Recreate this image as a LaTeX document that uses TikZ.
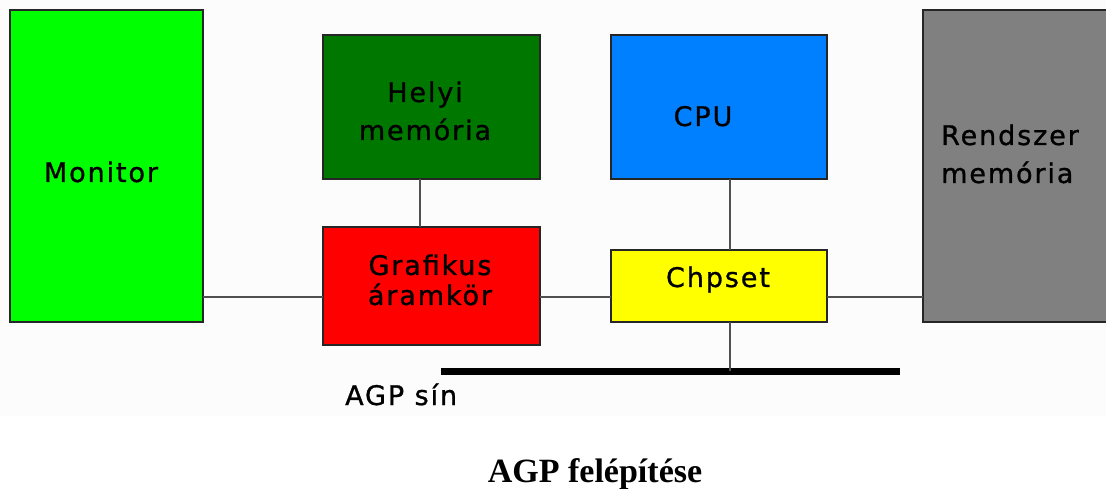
\documentclass[tikz,border=0pt]{standalone}
\usepackage{fontspec}
\newfontfamily\pixfont[LetterSpace=7,FakeBold=1]{DejaVu Sans}
\newfontfamily\capfont{Liberation Serif}
\definecolor{cmon}{HTML}{00FF00}
\definecolor{chel}{HTML}{007800}
\definecolor{cgra}{HTML}{FF0000}
\definecolor{ccpu}{HTML}{0080FF}
\definecolor{cchp}{HTML}{FFFF00}
\definecolor{cmem}{HTML}{808080}
\definecolor{cline}{HTML}{505050}
\definecolor{cbg}{HTML}{FCFCFC}
\tikzset{
  box/.style={draw=black!85, line width=1.5pt, inner sep=0pt, outer sep=0pt, anchor=center},
  txt/.style={inner sep=0pt, anchor=base, align=center, font={\pixfont\fontsize{27}{38}\selectfont}},
  conn/.style={draw=cline, line width=1.5pt},
  busline/.style={draw=black, line width=7pt},
}
\begin{document}
\begin{tikzpicture}[x=1pt,y=-1pt]
\clip (0,0) rectangle (1106,489);
\fill[white] (0,0) rectangle (1106,489);
\fill[cbg] (0,0) rectangle (1106,416);
% boxes
\node[box, fill=cmon, minimum width=193pt, minimum height=312pt] (mon) at (106.5,166) {};
\node[box, fill=chel, minimum width=217pt, minimum height=144pt] (hel) at (431.5,107) {};
\node[box, fill=cgra, minimum width=217pt, minimum height=118pt] (gra) at (431.5,286) {};
\node[box, fill=ccpu, minimum width=216pt, minimum height=144pt] (cpu) at (719,107) {};
\node[box, fill=cchp, minimum width=216pt, minimum height=72pt] (chp) at (719,286) {};
\node[box, fill=cmem, minimum width=200pt, minimum height=312pt] (mem) at (1023,166) {};
% texts (multi-line nodes: base = baseline of last line)
\node[txt] (tmon) at (101,182) {Monitor};
\node[txt] (thel) at (425,140) {Helyi\\memória};
\node[txt, font={\pixfont\fontsize{27}{30}\selectfont}] (tgra) at (430,305) {Grafikus\\áramkör};
\node[txt] (tcpu) at (703,126) {CPU};
\node[txt] (tchp) at (718,287) {Chpset};
\node[txt, anchor=base west, align=left] (tmem) at (941,183) {Rendszer\\memória};
% bus
\coordinate (busL) at (441,371);
\coordinate (busR) at (900,371);
\draw[busline] (busL) -- (busR);
% connectors
\draw[conn] ([yshift=-11pt]mon.east |- gra.west) -- ([yshift=-11pt]gra.west);
\draw[conn] ([yshift=-11pt]gra.east) -- ([yshift=-11pt]chp.west);
\draw[conn] ([yshift=-11pt]chp.east) -- ([yshift=-11pt]mem.west |- chp.east);
\draw[conn] ([xshift=-11.5pt]hel.south) -- ([xshift=-11.5pt]gra.north);
\draw[conn] ([xshift=11pt]cpu.south) -- ([xshift=11pt]chp.north);
\draw[conn] ([xshift=11pt]chp.south) -- ([xshift=11pt]chp.south |- busL);
% labels
\node[txt, anchor=base west] (agp) at (345,405) {AGP sín};
\node[inner sep=0pt, anchor=base, font={\capfont\bfseries\fontsize{34}{40}\selectfont}] (cap) at (595,482) {AGP felépítése};
\end{tikzpicture}
\end{document}
